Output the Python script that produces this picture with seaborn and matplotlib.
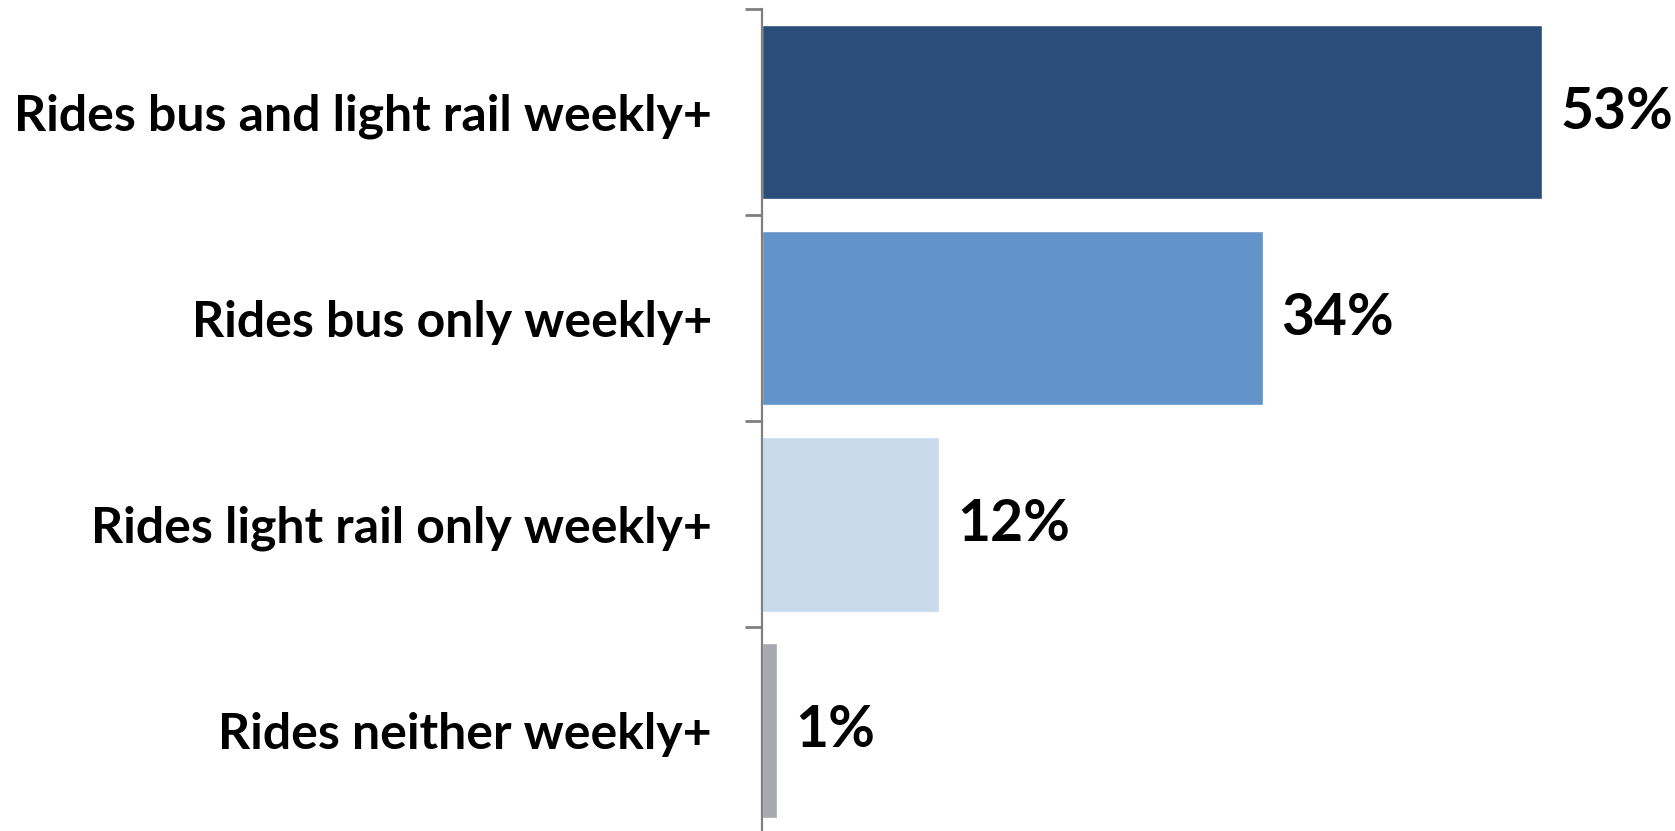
import matplotlib
matplotlib.use("Agg")
import matplotlib.pyplot as plt
import seaborn as sns
import pandas as pd

# Weekly ridership segments and their shares
categories = [
    "Rides bus and light rail weekly+",
    "Rides bus only weekly+",
    "Rides light rail only weekly+",
    "Rides neither weekly+",
]
shares = [53, 34, 12, 1]
bar_colors = ["#2A4E79", "#6394C9", "#C8DAEC", "#A8A9AE"]

sns.set_theme(style="white")
plt.rcParams["font.family"] = ["Lato", "DejaVu Sans"]

df = pd.DataFrame({"segment": categories, "share": shares})

fig = plt.figure(figsize=(16.75, 8.31), dpi=100)
ax = fig.add_axes([0.455, -0.003, 0.545, 0.992])

sns.barplot(
    data=df, x="share", y="segment", hue="segment",
    palette=bar_colors, orient="h", width=0.846,
    legend=False, ax=ax, saturation=1,
)

ax.set_xlim(0, 62)
ax.set_ylim(3.5, -0.5)
ax.set_xlabel("")
ax.set_ylabel("")
ax.set_xticks([])

for s in ["top", "right", "bottom"]:
    ax.spines[s].set_visible(False)
ax.spines["left"].set_color("#808080")
ax.spines["left"].set_linewidth(1.6)

# category labels centred on bars, tick marks at the category boundaries
ax.set_yticks(range(len(categories)))
ax.set_yticklabels(categories, fontsize=36, fontweight="bold", color="black")
ax.tick_params(axis="y", which="major", length=0, pad=36)
ax.set_yticks([i - 0.5 for i in range(len(categories) + 1)], minor=True)
ax.tick_params(axis="y", which="minor", length=12, width=2, color="#808080", left=True)

for i, v in enumerate(shares):
    ax.annotate(f"{v}%", xy=(v, i), xytext=(13, 0), textcoords="offset points",
                va="center", ha="left", fontsize=41, fontweight="bold", color="black")

fig.savefig("out.png", dpi=100)
